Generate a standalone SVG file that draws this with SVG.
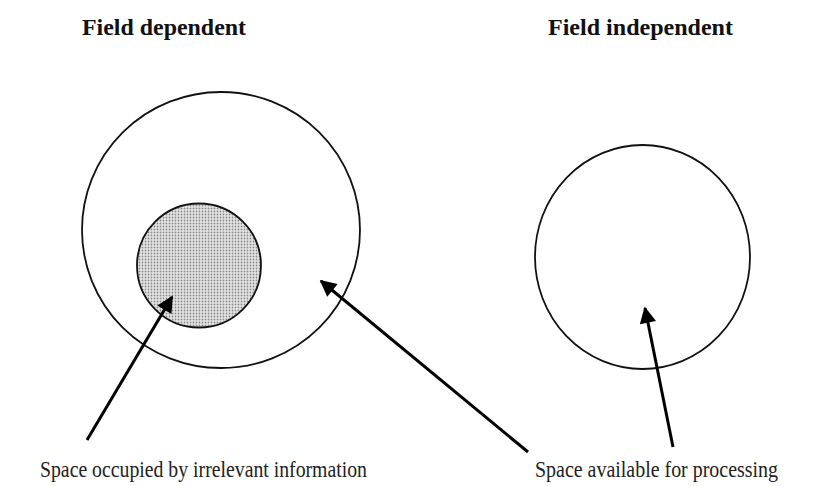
<svg xmlns="http://www.w3.org/2000/svg" width="819" height="486" viewBox="0 0 819 486">
<style>
.title{font-family:"Liberation Serif","DejaVu Serif",serif;font-weight:bold;font-size:24px;fill:#111}
.lbl{font-family:"Liberation Serif","DejaVu Serif",serif;font-size:23px;fill:#222}
.ring{fill:none;stroke:#111;stroke-width:1.8}
.arr{stroke:#000;stroke-width:3;fill:none;marker-end:url(#ah)}
</style>
<defs>
<pattern id="dots" width="3" height="3" patternUnits="userSpaceOnUse">
<rect width="3" height="3" fill="#e6e6e6"/>
<circle cx="1.5" cy="1.5" r="0.9" fill="#8a8a8a"/>
</pattern>
<marker id="ah" viewBox="0 0 10 10" refX="9" refY="5" markerWidth="6.5" markerHeight="5.5" orient="auto" markerUnits="strokeWidth">
<path d="M0,0 L10,5 L0,10 z" fill="#000"/>
</marker>
</defs>
<rect width="819" height="486" fill="#fff"/>
<g id="title-dependent"><text class="title" x="82" y="35" textLength="164" lengthAdjust="spacingAndGlyphs">Field dependent</text></g>
<g id="title-independent"><text class="title" x="548" y="35" textLength="185" lengthAdjust="spacingAndGlyphs">Field independent</text></g>
<g id="outer-dependent"><ellipse class="ring" cx="221" cy="230" rx="139" ry="138"/></g>
<g id="inner-irrelevant"><circle cx="199" cy="265.5" r="62" fill="url(#dots)" stroke="#111" stroke-width="1.8"/></g>
<g id="outer-independent"><ellipse class="ring" cx="642.5" cy="257" rx="107.5" ry="112"/></g>
<g id="connectors">
<line class="arr" x1="87" y1="440" x2="172" y2="297"/>
<line class="arr" x1="528" y1="452" x2="321" y2="281"/>
<line class="arr" x1="673" y1="447" x2="645" y2="308"/>
</g>
<g id="label-irrelevant"><text class="lbl" x="40" y="477" textLength="327" lengthAdjust="spacingAndGlyphs">Space occupied by irrelevant information</text></g>
<g id="label-available"><text class="lbl" x="535" y="477" textLength="243" lengthAdjust="spacingAndGlyphs">Space available for processing</text></g>
</svg>
